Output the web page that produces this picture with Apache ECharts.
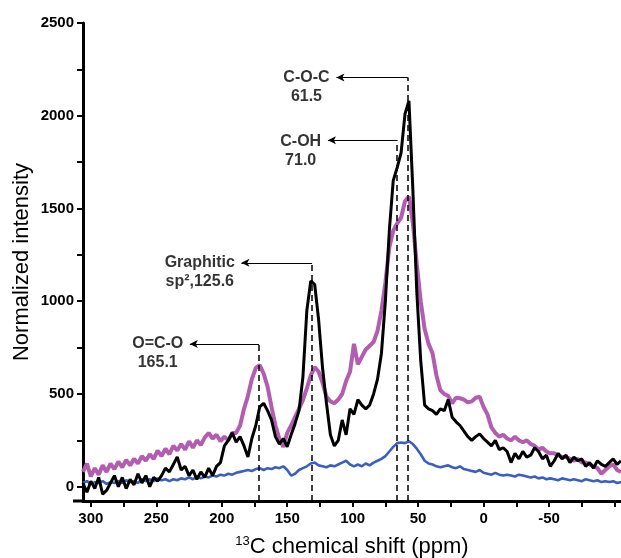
<!DOCTYPE html>
<html>
<head>
<meta charset="utf-8">
<script src="https://cdn.jsdelivr.net/npm/echarts@6/dist/echarts.min.js"></script>
<style>
html,body{margin:0;padding:0;background:#fff;}
#chart{width:621px;height:558px;}
</style>
</head>
<body>
<div id="chart"></div>
<script>
// 13C chemical shift grid (ppm)
const shifts = [
  306,303,300,297,294,291,288,285,282,279,
  276,273,270,267,264,261,258,255,252,249,
  246,243,240,237,234,231,228,225,222,219,
  216,213,210,207,204,201,198,195,192,189,
  186,183,180,177,174,171,168,165,162,159,
  156,153,150,147,144,141,138,135,132,129,
  126,123,120,117,114,111,108,105,102,99,
  96,93,90,87,84,81,78,75,72,69,
  66,63,60,57,54,51,48,45,42,39,
  36,33,30,27,24,21,18,15,12,9,
  6,3,0,-3,-6,-9,-12,-15,-18,-21,
  -24,-27,-30,-33,-36,-39,-42,-45,-48,-51,
  -54,-57,-60,-63,-66,-69,-72,-75,-78,-81,
  -84,-87,-90,-93,-96,-99,-102,-105
];
// black spectrum
const blackValues = [
  20,-30,30,-10,50,-40,-20,20,60,0,
  50,-10,40,10,70,20,60,0,50,30,
  60,100,80,120,160,90,110,60,90,40,
  80,50,100,60,110,130,220,250,290,240,
  270,220,160,260,330,430,450,410,360,270,
  230,260,215,280,340,410,590,950,1110,1090,
  900,640,450,280,220,250,360,280,420,390,
  470,440,420,440,500,580,720,1000,1380,1650,
  1720,1800,2010,2080,1600,1050,680,440,420,410,
  390,420,410,470,375,350,330,300,270,250,
  270,285,260,240,220,250,200,210,190,130,
  180,150,190,160,170,210,190,150,170,110,
  140,180,150,170,130,160,140,150,110,130,
  100,140,120,110,130,150,120,140
];
// magenta spectrum
const magentaValues = [
  80,125,55,100,65,115,80,125,95,135,
  105,145,115,150,125,165,140,175,150,195,
  165,205,175,220,195,230,200,245,210,250,
  225,265,290,260,280,245,270,250,290,290,
  330,420,490,580,640,655,610,540,430,330,
  260,215,290,330,375,420,467,530,600,645,
  620,560,485,460,450,470,500,570,620,770,
  660,700,740,760,780,840,950,1100,1290,1380,
  1420,1450,1540,1565,1420,1200,1000,850,770,720,
  600,520,500,490,450,480,477,470,455,460,
  480,485,430,390,320,290,270,280,260,250,
  270,250,240,250,230,220,200,210,190,180,
  180,170,160,160,150,140,150,130,130,120,
  110,100,70,90,110,120,90,80
];
// blue spectrum
const blueValues = [
  20,30,15,25,20,30,15,25,20,30,
  20,35,25,30,20,40,30,40,30,45,
  35,40,30,40,35,45,40,50,40,55,
  45,55,50,60,55,65,60,70,65,75,
  80,85,90,85,95,100,90,100,95,105,
  100,110,90,60,70,90,100,110,125,130,
  115,110,105,115,110,120,130,140,120,110,
  120,110,125,115,130,140,150,165,190,215,
  235,238,235,245,230,205,175,140,125,120,
  110,105,110,115,105,100,110,95,90,85,
  80,90,75,70,65,75,65,60,65,60,
  55,65,60,55,50,55,45,50,40,45,
  40,35,45,40,35,40,35,30,40,35,
  30,35,25,30,25,30,20,25
];

// axis ticks / labels
const xLabelValues = [300,250,200,150,100,50,0,-50];
const yLabelValues = [0,500,1000,1500,2000,2500];
const xTickMin = -100, xTickMax = 300, xTickStep = 25;
const yTickMin = 0, yTickMax = 2500, yTickStep = 250;

// peak annotations
const peakNames = ['O=C-O','Graphitic','C-OH','C-O-C'];
const peakValues = ['165.1','sp\u00B2,125.6','71.0','61.5'];
const peakLineShift = [171.5,131,66,57.8];     // where dashed lines stand (as drawn)
const peakArrowLevel = [769,1207,1868,2206];   // intensity level of arrows
const peakArrowEnd = [224.4,185,118.9,112.4];  // shift where arrow heads end
const peakLabelShift = [248.9,216.8,139.7,135.3];
const peakLabelLevel = [720,1156,1812,2153];

const X_MIN = -105, X_MAX = 306, Y_MIN = -77, Y_MAX = 2500;
const W = 621, H = 558, G_LEFT = 83, G_RIGHT = 0, G_TOP = 23, G_BOTTOM = 57;

function pairs(vals){ return shifts.map((s,i)=>[s, vals[i]]); }

// helper grids so that ticks line up with the round values
const plotW = W - G_LEFT - G_RIGHT, plotH = H - G_TOP - G_BOTTOM;
const pxPerX = plotW / (X_MAX - X_MIN), pxPerY = plotH / (Y_MAX - Y_MIN);
const tickGridX = {left: G_LEFT + (X_MAX - xTickMax) * pxPerX, right: G_RIGHT + (xTickMin - X_MIN) * pxPerX, top: G_TOP, bottom: G_BOTTOM};
const tickGridY = {left: G_LEFT, right: G_RIGHT, top: G_TOP + (Y_MAX - yTickMax) * pxPerY, bottom: G_BOTTOM + (yTickMin - Y_MIN) * pxPerY};

const markData = [];
for (let i=0;i<peakNames.length;i++){
  markData.push([
    {coord:[peakLineShift[i], Y_MIN], symbol:'none',
     lineStyle:{type:[6,4], width:1.5, color:'#000'}},
    {coord:[peakLineShift[i], peakArrowLevel[i]], symbol:'none'}
  ]);
  markData.push([
    {coord:[peakLineShift[i], peakArrowLevel[i]], symbol:'none',
     lineStyle:{type:'solid', width:1.2, color:'#000'}},
    {coord:[peakArrowEnd[i], peakArrowLevel[i]], symbol:'arrow', symbolSize:[6,8]}
  ]);
}

const labelData = peakNames.map((n,i)=>({value:[peakLabelShift[i], peakLabelLevel[i]], name:n, idx:i}));

const chart = echarts.init(document.getElementById('chart'), null, {renderer:'canvas'});
const FONT = '"Liberation Sans", Arial, Helvetica, sans-serif';
const tickStyle = {show:true, inside:false, length:6, lineStyle:{color:'#000', width:2}};
chart.setOption({
  animation:false,
  backgroundColor:'#fff',
  grid:[
    {left:G_LEFT, right:G_RIGHT, top:G_TOP, bottom:G_BOTTOM, containLabel:false, outerBoundsMode:'none'},
    Object.assign({containLabel:false, outerBoundsMode:'none'}, tickGridX),
    Object.assign({containLabel:false, outerBoundsMode:'none'}, tickGridY)
  ],
  xAxis:[{
    type:'value', inverse:true, min:X_MIN, max:X_MAX, gridIndex:0,
    name:'{sup|13}C chemical shift (ppm)', nameLocation:'middle', nameGap:34, nameMoveOverlap:false,
    nameTextStyle:{fontFamily:FONT, fontSize:22, color:'#000',
      rich:{sup:{fontFamily:FONT, fontSize:13, color:'#000', padding:[0,0,10,0]}}},
    axisLine:{show:true, onZero:false, lineStyle:{color:'#000', width:3}},
    axisTick:{show:false},
    axisLabel:{show:true, margin:10, fontFamily:FONT, fontWeight:'bold', fontSize:15, color:'#000',
      customValues:xLabelValues, formatter:(v)=>String(v)},
    splitLine:{show:false}
  },{
    type:'value', inverse:true, min:xTickMin, max:xTickMax, interval:xTickStep, gridIndex:1,
    axisLine:{show:false, onZero:false}, axisLabel:{show:false}, axisTick:tickStyle, splitLine:{show:false}
  },{
    type:'value', min:0, max:1, gridIndex:2, show:false
  }],
  yAxis:[{
    type:'value', min:Y_MIN, max:Y_MAX, gridIndex:0,
    name:'Normalized intensity', nameLocation:'middle', nameGap:50, nameMoveOverlap:false,
    nameTextStyle:{fontFamily:FONT, fontSize:22, color:'#000'},
    axisLine:{show:true, onZero:false, lineStyle:{color:'#000', width:3}},
    axisTick:{show:false},
    axisLabel:{show:true, margin:9, fontFamily:FONT, fontWeight:'bold', fontSize:15, color:'#000',
      customValues:yLabelValues, formatter:(v)=>String(v)},
    splitLine:{show:false}
  },{
    type:'value', min:0, max:1, gridIndex:1, show:false
  },{
    type:'value', min:yTickMin, max:yTickMax, interval:yTickStep, gridIndex:2,
    axisLine:{show:false, onZero:false}, axisLabel:{show:false}, axisTick:tickStyle, splitLine:{show:false}
  }],
  graphic:[{type:'line', shape:{x1:73, y1:H-G_BOTTOM, x2:G_LEFT, y2:H-G_BOTTOM}, style:{stroke:'#000', lineWidth:3}}],
  series:[
    {type:'line', name:'blue', data:pairs(blueValues), showSymbol:false, z:2,
     lineStyle:{color:'#3b5fc0', width:2.6}, itemStyle:{color:'#3b5fc0'}},
    {type:'line', name:'magenta', data:pairs(magentaValues), showSymbol:false, z:3,
     lineStyle:{color:'#b25db0', width:4}, itemStyle:{color:'#b25db0'}},
    {type:'line', name:'black', data:pairs(blackValues), showSymbol:false, z:4,
     lineStyle:{color:'#000', width:3}, itemStyle:{color:'#000'},
     markLine:{silent:true, symbol:'none', label:{show:false}, data:markData, animation:false}},
    {type:'scatter', name:'labels', data:labelData, symbolSize:0.1, z:6,
     itemStyle:{color:'rgba(0,0,0,0)'},
     label:{show:true, position:'inside', align:'center', verticalAlign:'middle',
       fontFamily:FONT, fontWeight:'bold', fontSize:16, lineHeight:19, color:'#000',
       formatter:(p)=> peakNames[p.data.idx] + '\n' + peakValues[p.data.idx]}}
  ]
});
</script>
</body>
</html>
